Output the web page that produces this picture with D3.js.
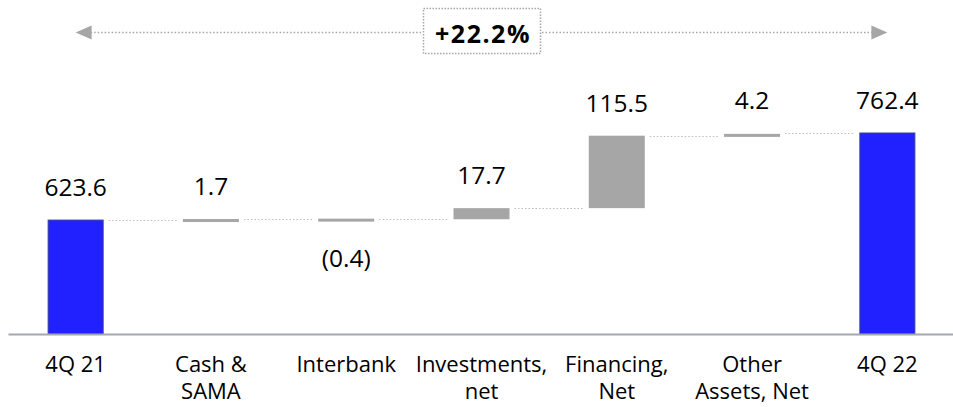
<!DOCTYPE html>
<html>
<head>
<meta charset="utf-8">
<script src="https://cdn.jsdelivr.net/npm/d3@7"></script>
<style>
  body { margin: 0; background: #fff; }
  svg text { font-family: "Open Sans", "Noto Sans", sans-serif; fill: #000; }
</style>
</head>
<body>
<div id="chart"></div>
<script>
// data
var categories = ["4Q 21", "Cash & SAMA", "Interbank", "Investments, net", "Financing, Net", "Other Assets, Net", "4Q 22"];
var labelLines = [["4Q 21"], ["Cash &", "SAMA"], ["Interbank"], ["Investments,", "net"], ["Financing,", "Net"], ["Other", "Assets, Net"], ["4Q 22"]];
var values = [623.6, 1.7, -0.4, 17.7, 115.5, 4.2, 762.4];
var kinds = ["total", "delta", "delta", "delta", "delta", "delta", "total"];
var growthLabel = "+22.2%";
var yFloor = 442; // axis does not start at zero

var width = 953,
    height = 407,
    baseY = 334,
    topY = 133;

var blue = "#2121ff",
    blueEdge = "#3a3f9a",
    grey = "#a6a6a6",
    dotGrey = "#bdbdbd";

// running totals
var run = 0;
var bars = values.map(function(v, i) {
  var b;
  if (kinds[i] === "total") {
    b = { lo: yFloor, hi: v, end: v };
    run = v;
  } else {
    b = { lo: Math.min(run, run + v), hi: Math.max(run, run + v), end: run + v };
    run = run + v;
  }
  b.cat = categories[i];
  b.value = v;
  b.kind = kinds[i];
  return b;
});

var x = d3.scaleBand()
  .domain(categories)
  .range([8, 955])
  .paddingInner(0.586)
  .paddingOuter(0.293);

var y = d3.scaleLinear()
  .domain([yFloor, values[values.length - 1]])
  .range([baseY, topY]);

var svg = d3.select("#chart")
  .append("svg")
  .attr("width", width)
  .attr("height", height);

// dotted connectors between bars
svg.selectAll("line.conn")
  .data(bars.slice(0, -1))
  .enter().append("line")
  .attr("class", "conn")
  .attr("x1", function(d) { return x(d.cat) + x.bandwidth() + 5; })
  .attr("x2", function(d, i) { return x(categories[i + 1]) - 6; })
  .attr("y1", function(d) { return Math.round(y(d.end)) + 0.5; })
  .attr("y2", function(d) { return Math.round(y(d.end)) + 0.5; })
  .style("stroke", dotGrey)
  .style("stroke-width", "1px")
  .style("stroke-dasharray", "1.5,2");

// bars (small deltas get a minimum visible thickness)
var minH = 3;
svg.selectAll("rect.bar")
  .data(bars)
  .enter().append("rect")
  .attr("class", "bar")
  .attr("x", function(d) { return x(d.cat) + (d.kind === "total" ? 0.5 : 0); })
  .attr("width", function(d) { return x.bandwidth() - (d.kind === "total" ? 1 : 0); })
  .attr("y", function(d) {
    var h = y(d.lo) - y(d.hi);
    return h < minH ? (y(d.lo) + y(d.hi)) / 2 - minH / 2 + 1 : y(d.hi);
  })
  .attr("height", function(d) { return Math.max(minH, y(d.lo) - y(d.hi)); })
  .style("fill", function(d) { return d.kind === "total" ? blue : grey; })
  .style("stroke", function(d) { return d.kind === "total" ? blueEdge : "none"; })
  .style("stroke-width", "1px");

// value labels
svg.selectAll("text.val")
  .data(bars)
  .enter().append("text")
  .attr("class", "val")
  .attr("x", function(d) { return x(d.cat) + x.bandwidth() / 2; })
  .attr("y", function(d) {
    return d.value < 0 ? y(d.lo) + 48 : y(d.hi) - 24;
  })
  .attr("text-anchor", "middle")
  .style("font-size", "24.5px")
  .text(function(d) {
    var s = d3.format(".1f")(Math.abs(d.value));
    return d.value < 0 ? "(" + s + ")" : s;
  });

// category axis (domain line is the baseline)
var axis = d3.axisBottom(x).tickSize(0).tickSizeOuter(0);
var gx = svg.append("g")
  .attr("transform", "translate(0," + baseY + ")")
  .call(axis);
gx.select(".domain")
  .style("stroke", "#a4a6b0")
  .style("stroke-width", "2px");
gx.selectAll(".tick text").each(function(c) {
  var t = d3.select(this).text(null)
    .attr("y", 0)
    .attr("dy", null)
    .style("font-size", "22px")
    .style("font-family", "'Open Sans', 'Noto Sans', sans-serif")
    .attr("fill", "#000");
  labelLines[categories.indexOf(c)].forEach(function(line, k) {
    t.append("tspan")
      .attr("x", 0)
      .attr("y", 38 + k * 26.5)
      .text(line);
  });
});

// growth arrow on top
var arrowY = 32.5,
    x0 = x(categories[0]) + x.bandwidth() / 2,
    x1 = x(categories[categories.length - 1]) + x.bandwidth() / 2,
    boxL = 423, boxR = 540, boxT = 8, boxB = 53;

svg.append("line")
  .attr("x1", x0 + 15).attr("x2", boxL - 2)
  .attr("y1", arrowY).attr("y2", arrowY)
  .style("stroke", grey).style("stroke-width", "1.5px")
  .style("stroke-dasharray", "1.5,2");
svg.append("line")
  .attr("x1", boxR + 2).attr("x2", x1 - 15)
  .attr("y1", arrowY).attr("y2", arrowY)
  .style("stroke", grey).style("stroke-width", "1.5px")
  .style("stroke-dasharray", "1.5,2");

svg.append("path")
  .attr("d", "M" + x0 + "," + arrowY + "L" + (x0 + 16) + "," + (arrowY - 7) + "L" + (x0 + 16) + "," + (arrowY + 7) + "Z")
  .style("fill", grey);
svg.append("path")
  .attr("d", "M" + x1 + "," + arrowY + "L" + (x1 - 16) + "," + (arrowY - 7) + "L" + (x1 - 16) + "," + (arrowY + 7) + "Z")
  .style("fill", grey);

svg.append("rect")
  .attr("x", boxL + 0.5).attr("y", boxT + 0.5)
  .attr("width", boxR - boxL).attr("height", boxB - boxT)
  .style("fill", "#fff")
  .style("stroke", grey)
  .style("stroke-width", "1.5px")
  .style("stroke-dasharray", "1.5,1.5");

svg.append("text")
  .attr("x", (boxL + boxR) / 2 + 1.5)
  .attr("y", 43)
  .attr("text-anchor", "middle")
  .style("font-size", "25px")
  .style("font-weight", "bold")
  .style("letter-spacing", "1.5px")
  .text(growthLabel);
</script>
</body>
</html>
